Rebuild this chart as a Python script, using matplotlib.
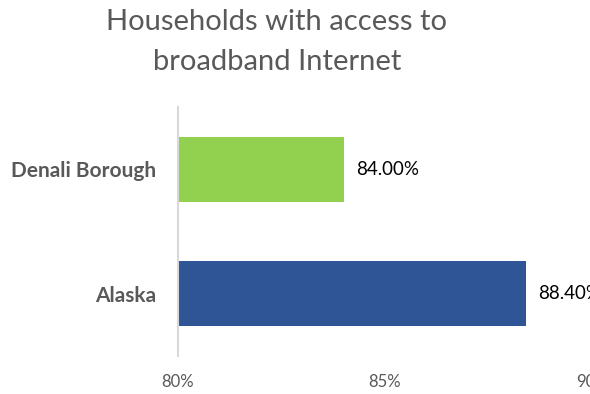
import matplotlib.pyplot as plt

categories = ["Alaska", "Denali Borough"]
values = [88.40, 84.00]
bar_colors = ["#2F5597", "#92D050"]
xticks = [80, 85, 90]
title = "Households with access to\nbroadband Internet"

plt.rcParams['font.family'] = ['Lato', 'DejaVu Sans']

fig = plt.figure(figsize=(5.9, 3.94), dpi=100)
ax = fig.add_axes([178 / 590, 1 - 356 / 394, 414 / 590, 249 / 394])

ypos = range(len(categories))
ax.barh(ypos, [v - 80 for v in values], left=80, height=0.52, color=bar_colors)
ax.set_xlim(80, 90)
ax.set_ylim(-0.5, 1.5)

# value labels to the right of each bar
for y, v in zip(ypos, values):
    ax.text(v + 0.3, y, f"{v:.2f}%", va='center', ha='left', fontsize=13.5,
            color='black', clip_on=False)

ax.set_yticks(list(ypos))
ax.set_yticklabels(categories, fontsize=15, fontweight='bold', color='#595959')
ax.set_xticks(xticks)
ax.set_xticklabels([f"{t}%" for t in xticks], fontsize=12, color='#595959')
ax.tick_params(axis='both', length=0)
ax.tick_params(axis='y', pad=16)
ax.tick_params(axis='x', pad=13)

for side in ['top', 'right', 'bottom']:
    ax.spines[side].set_visible(False)
ax.spines['left'].set_color('#D9D9D9')
ax.spines['left'].set_linewidth(1.5)

fig.text(277 / 590, 1 - 42 / 394, title, ha='center', va='center',
         fontsize=21, color='#595959', linespacing=1.7)

fig.savefig('out.png', dpi=100)
